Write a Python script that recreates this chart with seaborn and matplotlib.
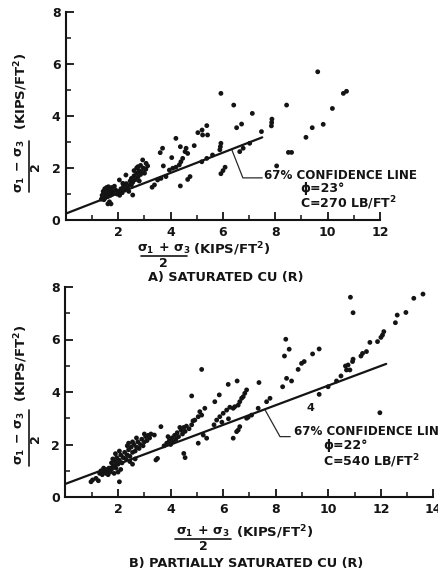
import numpy as np
import pandas as pd
import matplotlib
matplotlib.use("Agg")
import matplotlib.pyplot as plt
from matplotlib.lines import Line2D
import seaborn as sns

# ---------------------------------------------------------------------------
# Data: p = (s1 + s3)/2 and q = (s1 - s3)/2, both in kips/ft^2
# ---------------------------------------------------------------------------
saturated_points = [
    (1.35, 0.80), (1.40, 0.90), (1.45, 1.00), (1.42, 1.10), (1.50, 0.85), (1.52, 0.95),
    (1.55, 1.05), (1.58, 1.15), (1.60, 0.90), (1.62, 1.00), (1.65, 1.10), (1.68, 1.20),
    (1.70, 0.95), (1.72, 1.05), (1.75, 1.25), (1.78, 1.00), (1.80, 1.10), (1.48, 1.20),
    (1.55, 1.25), (1.85, 1.30), (1.38, 0.95), (1.45, 0.78), (1.62, 1.28), (1.90, 1.15),
    (1.60, 0.62), (1.72, 0.62), (1.66, 0.70),
    (1.95, 1.00), (2.00, 1.10), (2.05, 0.95), (2.10, 1.20), (2.15, 1.05), (2.20, 1.30),
    (2.25, 1.15), (2.30, 1.40), (2.35, 1.25), (2.40, 1.10), (2.45, 1.35), (2.04, 1.54),
    (2.17, 1.41), (2.29, 1.73), (2.55, 0.96),
    (2.45, 1.50), (2.50, 1.60), (2.55, 1.45), (2.60, 1.70), (2.65, 1.55), (2.70, 1.80),
    (2.75, 1.65), (2.80, 1.90), (2.85, 1.75), (2.90, 1.85), (2.95, 2.00), (3.00, 1.80),
    (3.05, 1.95), (2.60, 1.90), (2.70, 2.00), (2.80, 1.50), (2.50, 1.35), (2.93, 2.31),
    (3.06, 2.18), (3.12, 2.08), (2.85, 2.10), (2.75, 2.05),
    (3.29, 1.26), (3.38, 1.35), (3.50, 1.54), (3.63, 1.60), (3.82, 1.67), (3.95, 1.92),
    (4.08, 1.99), (4.20, 2.03), (4.33, 2.12), (4.39, 2.24), (4.46, 2.37), (3.72, 2.08),
    (3.60, 2.59), (3.69, 2.76), (4.04, 2.40), (4.20, 3.14), (4.37, 2.82), (4.59, 2.76),
    (4.55, 2.63), (4.65, 2.56), (4.90, 2.86), (4.74, 1.67), (4.65, 1.56), (4.37, 1.31),
    (5.19, 2.24), (5.38, 2.37), (5.04, 3.36), (5.20, 3.46), (5.38, 3.63), (5.22, 3.27),
    (5.41, 3.27), (5.60, 2.50), (5.88, 2.70), (5.90, 2.82), (5.92, 2.95), (5.92, 1.78),
    (6.00, 1.90), (6.08, 2.03), (5.92, 4.87), (6.41, 4.42), (7.12, 4.10), (6.71, 3.69),
    (6.52, 3.55), (7.85, 3.62), (7.86, 3.75), (7.87, 3.88), (8.43, 4.42), (9.62, 5.70),
    (10.60, 4.87), (10.72, 4.95), (10.18, 4.29), (9.83, 3.68), (9.41, 3.55), (9.17, 3.18),
    (8.50, 2.60), (8.62, 2.60), (7.47, 3.40), (7.02, 2.95), (6.77, 2.76), (6.64, 2.63),
    (8.05, 2.08),
]

partial_points = [
    (1.03, 0.65), (1.16, 0.71), (0.97, 0.58), (2.05, 0.58), (1.25, 0.62),
    (1.30, 0.90), (1.35, 1.00), (1.40, 0.85), (1.45, 0.95), (1.50, 1.05), (1.55, 0.90),
    (1.60, 1.00), (1.65, 1.10), (1.70, 0.95), (1.75, 1.05), (1.80, 1.15), (1.45, 1.10),
    (1.62, 0.85), (1.85, 0.90),
    (1.75, 1.30), (1.80, 1.45), (1.85, 1.20), (1.90, 1.35), (1.95, 1.50), (2.00, 1.25),
    (2.05, 1.40), (2.10, 1.60), (2.15, 1.30), (2.20, 1.50), (2.25, 1.70), (2.30, 1.45),
    (1.92, 1.10), (2.00, 0.95), (2.10, 1.05), (1.90, 1.65), (2.05, 1.75),
    (2.35, 1.60), (2.40, 1.80), (2.45, 1.55), (2.50, 1.90), (2.55, 1.70), (2.60, 2.00),
    (2.65, 1.75), (2.70, 1.90), (2.75, 2.10), (2.80, 1.85), (2.85, 2.00), (2.90, 2.20),
    (2.95, 1.95), (3.00, 2.10), (3.05, 2.30), (3.10, 2.15), (3.15, 2.35), (3.20, 2.25),
    (2.45, 1.35), (2.55, 1.25), (2.65, 1.45), (2.40, 2.05), (2.55, 2.10), (2.70, 2.25),
    (2.35, 1.95), (3.00, 2.40), (3.25, 2.40),
    (3.38, 2.36), (3.63, 2.68), (3.50, 1.47), (3.44, 1.41),
    (3.75, 1.95), (3.85, 2.05), (3.95, 2.15), (4.00, 2.00), (4.05, 2.25), (4.15, 2.35),
    (4.20, 2.20), (4.25, 2.45), (4.30, 2.30), (4.40, 2.55), (4.45, 2.40), (4.50, 2.65),
    (4.55, 2.50), (4.60, 2.70), (4.70, 2.60), (4.80, 2.75), (4.85, 2.90), (3.90, 2.30),
    (4.10, 2.10), (4.35, 2.65),
    (4.50, 1.66), (4.55, 1.50), (4.80, 3.85), (5.18, 4.86),
    (4.92, 2.93), (5.05, 3.06), (5.18, 3.12), (5.11, 3.25), (5.30, 3.38), (5.24, 2.36),
    (5.37, 2.24), (5.05, 2.05),
    (5.68, 3.63), (5.85, 3.89), (5.75, 2.93), (5.87, 3.06), (6.00, 3.19), (6.13, 3.31),
    (6.25, 3.42), (6.38, 3.38), (6.44, 3.44), (6.57, 3.50), (6.63, 3.63), (6.70, 3.76),
    (6.76, 3.82), (6.82, 3.95), (6.89, 4.08), (6.19, 4.29), (6.53, 4.42), (7.36, 4.36),
    (6.51, 2.49), (6.57, 2.55), (6.63, 2.68), (6.38, 2.24),
    (5.65, 2.75), (5.95, 2.85), (6.20, 2.98),
    (7.65, 3.63), (7.78, 3.76), (7.33, 3.38), (7.08, 3.12), (6.95, 3.04), (6.89, 3.00),
    (8.38, 6.01), (8.51, 5.63), (8.33, 5.37), (8.41, 4.52), (8.60, 4.42), (8.26, 4.20),
    (8.85, 4.86), (8.98, 5.09), (9.08, 5.16), (9.40, 5.45), (9.65, 5.64),
    (9.65, 3.91), (9.99, 4.20), (10.31, 4.42), (10.48, 4.61), (10.65, 4.99), (10.69, 4.84),
    (10.82, 4.84), (10.75, 5.03), (10.92, 5.16), (10.94, 5.25), (11.24, 5.37), (11.30, 5.47),
    (11.45, 5.54), (11.58, 5.89), (11.87, 5.92), (12.00, 6.08), (12.06, 6.17), (12.11, 6.30),
    (12.55, 6.64), (12.62, 6.93), (12.95, 7.03), (13.25, 7.57), (13.60, 7.73), (10.84, 7.61),
    (10.94, 7.02), (11.96, 3.21),
]

# 67% confidence strength lines: friction angle (deg) and cohesion (lb/ft^2)
sat_phi_deg, sat_c_psf, sat_line_end = 23, 270, 7.5
part_phi_deg, part_c_psf, part_line_end = 22, 540, 12.2

panel_titles = ["A) SATURATED CU (R)", "B) PARTIALLY SATURATED CU (R)"]
x_ticks_sat = [2, 4, 6, 8, 10, 12]
x_ticks_part = [2, 4, 6, 8, 10, 12, 14]
y_ticks = [0, 2, 4, 6, 8]

# ---------------------------------------------------------------------------
sns.set_theme(style="ticks")
plt.rcParams["font.family"] = ["DejaVu Sans"]
plt.rcParams["font.weight"] = "bold"
plt.rcParams["mathtext.fontset"] = "custom"
plt.rcParams["mathtext.rm"] = "DejaVu Sans:bold"
plt.rcParams["mathtext.it"] = "DejaVu Sans:bold"
plt.rcParams["mathtext.bf"] = "DejaVu Sans:bold"
plt.rcParams["mathtext.default"] = "rm"

INK = "#141414"
W, H = 439, 573
fig = plt.figure(figsize=(W / 100, H / 100), dpi=100)
fig.patch.set_facecolor("white")


def fx(px):
    return px / W


def fy(py):
    return 1 - py / H


def pq_line(phi_deg, c_psf, x_end):
    phi = np.radians(phi_deg)
    a = c_psf / 1000.0 * np.cos(phi)
    x = np.array([0.0, x_end])
    return pd.DataFrame({"p": x, "q": a + np.sin(phi) * x})


def style_axes(ax, xmax, xticks):
    ax.set_xlim(0, xmax)
    ax.set_ylim(0, 8)
    sns.despine(ax=ax)
    for s in ("left", "bottom"):
        ax.spines[s].set_linewidth(1.5)
        ax.spines[s].set_color(INK)
    ax.set_xticks(xticks)
    ax.set_xticks(np.arange(1, xmax, 2), minor=True)
    ax.set_yticks(y_ticks)
    ax.set_yticks([1, 3, 5, 7], minor=True)
    ax.tick_params(which="major", direction="in", length=6, width=1.3, color=INK,
                   labelsize=9, labelcolor=INK)
    ax.tick_params(which="minor", direction="in", length=3.5, width=1.1, color=INK)
    ax.tick_params(axis="x", which="major", pad=4)
    ax.tick_params(axis="y", which="major", pad=4)
    for lab in ax.get_xticklabels() + ax.get_yticklabels():
        lab.set_fontweight("bold")
    ax.set_xlabel("")
    ax.set_ylabel("")
    ax.set_facecolor("white")


def draw_panel(ax, pts, phi, c, x_end):
    df = pd.DataFrame(pts, columns=["p", "q"])
    sns.scatterplot(data=df, x="p", y="q", ax=ax, s=12, color=INK,
                    edgecolor="none", linewidth=0, zorder=3, clip_on=False)
    line = pq_line(phi, c, x_end)
    sns.lineplot(data=line, x="p", y="q", ax=ax, color=INK, linewidth=1.6,
                 zorder=4, clip_on=False)


def x_fraction_label(num_cx, py, bar_x0, bar_x1, den_cx, units_x, fs=9):
    fig.text(fx(num_cx), fy(py), r"$\sigma_1\,+\,\sigma_3$", ha="center", va="center",
             fontsize=fs, color=INK)
    fig.add_artist(Line2D([fx(bar_x0), fx(bar_x1)], [fy(py + 7), fy(py + 7)],
                          color=INK, linewidth=1.2))
    fig.text(fx(den_cx), fy(py + 14), "2", ha="center", va="center", fontsize=fs,
             fontweight="bold", color=INK)
    fig.text(fx(units_x), fy(py), r"(KIPS/FT$^2$)", ha="left", va="center",
             fontsize=9.5, color=INK)


def y_fraction_label(num_cy, bar_y0, bar_y1, units_cy, fs=9):
    fig.text(fx(20), fy(num_cy), r"$\sigma_1\,-\,\sigma_3$", ha="center", va="center",
             rotation=90, fontsize=fs, color=INK)
    fig.add_artist(Line2D([fx(29), fx(29)], [fy(bar_y0), fy(bar_y1)],
                          color=INK, linewidth=1.2))
    fig.text(fx(35), fy(num_cy + 1), "2", ha="center", va="center", rotation=90,
             fontsize=fs, fontweight="bold", color=INK)
    fig.text(fx(21), fy(units_cy), r"(KIPS/FT$^2$)", ha="center", va="center",
             rotation=90, fontsize=9.5, color=INK)


# ---------------- Panel A: saturated -----------------
ax1 = fig.add_axes([fx(66), fy(220), fx(380) - fx(66), fy(12) - fy(220)])
draw_panel(ax1, saturated_points, sat_phi_deg, sat_c_psf, sat_line_end)
style_axes(ax1, 12, x_ticks_sat)

ax1.add_line(Line2D([6.33, 6.76, 7.50], [2.72, 1.62, 1.62], color="#2a2a2a",
                    linewidth=0.9, zorder=2))
ax1.text(7.55, 1.70, "67% CONFIDENCE LINE", fontsize=8.6, fontweight="bold",
         va="center", ha="left", color=INK)
ax1.text(8.94, 1.22, "\u03d5=23\u00b0", fontsize=9, fontweight="bold",
         va="center", ha="left", color=INK)
ax1.text(8.94, 0.63, r"C=270 LB/FT$^2$", fontsize=9, fontweight="bold",
         va="center", ha="left", color=INK)

x_fraction_label(164, 249, 141, 187, 163, 193)
y_fraction_label(166, 141, 192, 91)
fig.text(fx(226), fy(278), panel_titles[0], ha="center", va="center",
         fontsize=9.3, fontweight="bold", color=INK)

# ---------------- Panel B: partially saturated -----------------
ax2 = fig.add_axes([fx(65.5), fy(497), fx(433.5) - fx(65.5), fy(287) - fy(497)])
draw_panel(ax2, partial_points, part_phi_deg, part_c_psf, part_line_end)
style_axes(ax2, 14, x_ticks_part)

ax2.add_line(Line2D([7.58, 8.16, 8.55], [3.34, 2.30, 2.30], color="#2a2a2a",
                    linewidth=0.9, zorder=2))
ax2.text(8.68, 2.50, "67% CONFIDENCE LINE", fontsize=8.6, fontweight="bold",
         va="center", ha="left", color=INK, clip_on=False)
ax2.text(9.79, 1.98, "\u03d5=22\u00b0", fontsize=9, fontweight="bold",
         va="center", ha="left", color=INK)
ax2.text(9.79, 1.37, r"C=540 LB/FT$^2$", fontsize=9, fontweight="bold",
         va="center", ha="left", color=INK)
ax2.text(9.30, 3.38, "4", fontsize=8, fontweight="bold", va="center",
         ha="center", color=INK)

x_fraction_label(203, 532, 175, 231, 203, 236)
y_fraction_label(438, 410, 466, 363)
fig.text(fx(246), fy(563), panel_titles[1], ha="center", va="center",
         fontsize=9.3, fontweight="bold", color=INK)

fig.savefig("out.png", dpi=100, facecolor="white")
